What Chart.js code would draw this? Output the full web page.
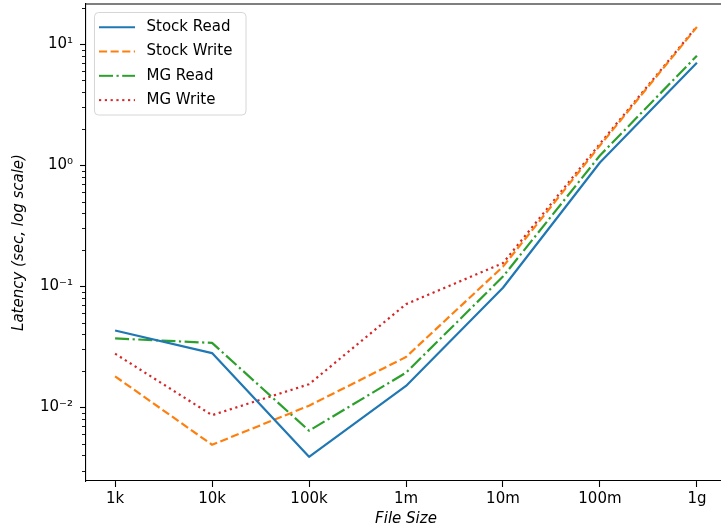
<!DOCTYPE html>
<html><head><meta charset="utf-8">
<script src="https://cdn.jsdelivr.net/npm/chart.js@4"></script>
<style>html,body{margin:0;padding:0;overflow:hidden;background:#fff;width:721px;height:531px}canvas{display:block}</style>
</head><body>
<canvas id="c" width="727" height="531"></canvas>
<script>
// ---- data ----
const categories = ['1k', '10k', '100k', '1m', '10m', '100m', '1g'];
const stockRead  = [0.043, 0.028, 0.0039, 0.015, 0.097, 1.05, 7.0];
const stockWrite = [0.018, 0.0049, 0.0103, 0.026, 0.145, 1.45, 13.8];
const mgRead     = [0.037, 0.034, 0.0064, 0.0193, 0.12, 1.2, 8.0];
const mgWrite    = [0.0277, 0.0086, 0.0155, 0.071, 0.155, 1.5, 14.0];
const seriesNames = ['Stock Read', 'Stock Write', 'MG Read', 'MG Write'];
const yMajorTicks = [0.01, 0.1, 1, 10];
const yTickLabels = ['10\u207B\u00B2', '10\u207B\u00B9', '10\u2070', '10\u00B9'];
const yMin = 0.00246, yMax = 21.4;

// ---- styles ----
const LW = 2.2;
const styles = [
  { color: '#1f77b4', dash: [] },
  { color: '#ff7f0e', dash: [8.1, 3.5] },
  { color: '#2ca02c', dash: [14, 3.5, 2.2, 3.5] },
  { color: '#d62728', dash: [2.2, 3.6] }
];
const allSeries = [stockRead, stockWrite, mgRead, mgWrite];

// legend handle icons (line samples with the series dash pattern)
const ICON_W = 40, LINE_W = 36, ICON_H = 8;
const legendIcons = styles.map(st => {
  const cv = document.createElement('canvas');
  cv.width = ICON_W; cv.height = ICON_H;
  const g = cv.getContext('2d');
  g.strokeStyle = st.color;
  g.lineWidth = LW;
  g.lineCap = 'butt';
  g.setLineDash(st.dash);
  g.beginPath();
  g.moveTo(0, ICON_H / 2);
  g.lineTo(LINE_W, ICON_H / 2);
  g.stroke();
  return cv;
});

const datasets = allSeries.map((vals, k) => ({
  label: seriesNames[k],
  data: vals.map((v, i) => ({ x: i, y: v })),
  borderColor: styles[k].color,
  backgroundColor: styles[k].color,
  borderDash: styles[k].dash,
  borderWidth: LW,
  borderCapStyle: 'butt',
  borderJoinStyle: 'round',
  pointRadius: 0,
  pointHoverRadius: 0,
  tension: 0,
  fill: false
}));

// minor tick values per decade
const minorTicks = [];
for (let e = -3; e <= 1; e++) {
  for (let m = 2; m <= 9; m++) {
    const v = m * Math.pow(10, e);
    if (v >= yMin && v <= yMax) minorTicks.push(v);
  }
}
const isMajor = v => yMajorTicks.some(m => Math.abs(m - v) / m < 1e-9);

Chart.defaults.font.family = 'DejaVu Sans';
Chart.defaults.font.size = 15;
Chart.defaults.color = '#000';

const framePlugin = {
  id: 'frame',
  afterLayout(chart) {
    const lg = chart.legend;
    if (lg) {
      const dx = 3.7, dy = 10.4;
      lg.left += dx; lg.right += dx; lg.top += dy; lg.bottom += dy;
    }
  },
  beforeDraw(chart) {
    const { ctx, chartArea: ca } = chart;
    ctx.save();
    const x = ca.left + 8.5, y = ca.top + 8.5, w = 151.5, h = 102.5, r = 4;
    ctx.beginPath();
    ctx.roundRect(x, y, w, h, r);
    ctx.fillStyle = 'rgba(255,255,255,0.8)';
    ctx.fill();
    ctx.strokeStyle = '#d6d6d6';
    ctx.lineWidth = 1;
    ctx.stroke();
    ctx.restore();
  },
  afterDraw(chart) {
    const { ctx, chartArea: ca } = chart;
    const ys = chart.scales.y;
    ctx.save();
    ctx.strokeStyle = '#000';
    // minor ticks
    ctx.lineWidth = 0.9;
    ctx.beginPath();
    minorTicks.forEach(v => {
      const py = Math.round(ys.getPixelForValue(v)) + 0.5;
      ctx.moveTo(ca.left - 4, py);
      ctx.lineTo(ca.left, py);
    });
    ctx.stroke();
    // top and right spines
    ctx.lineWidth = 1.1;
    ctx.beginPath();
    ctx.moveTo(ca.left, ca.top);
    ctx.lineTo(ca.right, ca.top);
    ctx.lineTo(ca.right, ca.bottom);
    ctx.stroke();
    ctx.restore();
  }
};

new Chart(document.getElementById('c'), {
  type: 'line',
  data: { datasets },
  options: {
    responsive: false,
    animation: false,
    devicePixelRatio: 1,
    layout: { padding: { left: 0, top: 4, right: 1, bottom: 0 } },
    plugins: {
      tooltip: { enabled: false },
      legend: {
        position: 'chartArea',
        align: 'start',
        labels: {
          usePointStyle: true,
          pointStyleWidth: ICON_W,
          padding: 9.3,
          color: '#000',
          font: { size: 15, family: 'DejaVu Sans' },
          generateLabels: chart => Chart.defaults.plugins.legend.labels.generateLabels(chart)
            .map((it, i) => Object.assign(it, { pointStyle: legendIcons[i] }))
        }
      }
    },
    scales: {
      x: {
        type: 'linear',
        min: -0.3,
        max: 6.3,
        afterBuildTicks: s => { s.ticks = categories.map((c, i) => ({ value: i })); },
        afterFit: s => { s.height = 50; s.paddingLeft = 0; s.paddingRight = 0; },
        ticks: {
          autoSkip: false,
          maxRotation: 0,
          padding: 3,
          color: '#000',
          font: { size: 15 },
          callback: v => categories[v] !== undefined ? categories[v] : ''
        },
        grid: { drawOnChartArea: false, tickLength: 6, tickColor: '#000', tickWidth: 1.1 },
        border: { display: true, color: '#000', width: 1.1 },
        title: {
          display: true,
          text: 'File Size',
          color: '#000',
          font: { size: 15, style: 'italic' },
          padding: { top: 0, bottom: 3 }
        }
      },
      y: {
        type: 'logarithmic',
        min: yMin,
        max: yMax,
        afterBuildTicks: s => {
          const all = yMajorTicks.concat(minorTicks).sort((a, b) => a - b);
          s.ticks = all.map(v => ({ value: v }));
        },
        afterFit: s => { s.width = 86; s.paddingTop = 0; s.paddingBottom = 0; },
        ticks: {
          autoSkip: false,
          padding: 7,
          color: '#000',
          font: { size: 15 },
          callback: v => {
            const i = yMajorTicks.findIndex(m => Math.abs(m - v) / m < 1e-9);
            return i >= 0 ? yTickLabels[i] : '';
          }
        },
        grid: {
          drawOnChartArea: false,
          tickLength: 6,
          tickWidth: 1.1,
          tickColor: c => (c.tick && isMajor(c.tick.value)) ? '#000' : 'rgba(0,0,0,0)'
        },
        border: { display: true, color: '#000', width: 1.1 },
        title: {
          display: true,
          text: 'Latency (sec, log scale)',
          color: '#000',
          font: { size: 15, style: 'italic' },
          padding: { top: 10, bottom: 0 }
        }
      }
    }
  },
  plugins: [framePlugin]
});
</script>
</body></html>
